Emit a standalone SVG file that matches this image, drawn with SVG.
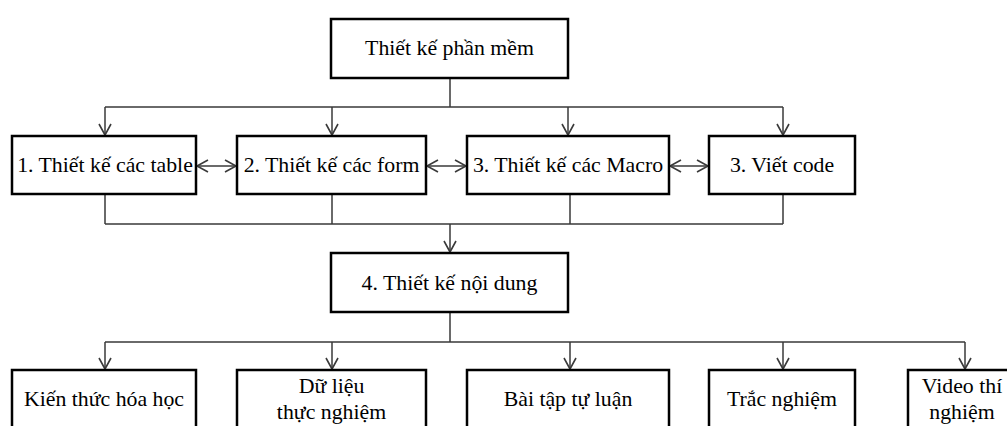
<svg xmlns="http://www.w3.org/2000/svg" width="1007" height="426" viewBox="0 0 1007 426">
<style>
.box{fill:#fff;stroke:#000;stroke-width:2.5}
.t{font-family:"Liberation Serif","Times New Roman",serif;font-size:21.8px;fill:#000;text-anchor:middle}
.c{fill:none;stroke:#3a3a3a;stroke-width:1.5}
</style>
<defs>
<marker id="ah" markerUnits="userSpaceOnUse" markerWidth="14" markerHeight="14" viewBox="0 0 14 14" refX="12" refY="7" orient="auto-start-reverse">
<path d="M1,1 L12,7 L1,13" fill="none" stroke="#3a3a3a" stroke-width="1.6"/>
</marker>
</defs>
<rect width="1007" height="426" fill="#fff"/>
<g id="connectors">
<path class="c" d="M450,78 V107 M105,107 H783"/>
<path class="c" marker-end="url(#ah)" d="M105,107 V135"/>
<path class="c" marker-end="url(#ah)" d="M332,107 V135"/>
<path class="c" marker-end="url(#ah)" d="M568,107 V135"/>
<path class="c" marker-end="url(#ah)" d="M783,107 V135"/>
<path class="c" marker-start="url(#ah)" marker-end="url(#ah)" d="M197,166 H236"/>
<path class="c" marker-start="url(#ah)" marker-end="url(#ah)" d="M427,166 H466"/>
<path class="c" marker-start="url(#ah)" marker-end="url(#ah)" d="M670,166 H708"/>
<path class="c" d="M105,194 V224 M332,194 V224 M570,194 V224 M783,194 V224 M105,224 H783"/>
<path class="c" marker-end="url(#ah)" d="M450,224 V252"/>
<path class="c" d="M450,312 V342 M105,342 H965"/>
<path class="c" marker-end="url(#ah)" d="M105,342 V369"/>
<path class="c" marker-end="url(#ah)" d="M332,342 V369"/>
<path class="c" marker-end="url(#ah)" d="M570,342 V369"/>
<path class="c" marker-end="url(#ah)" d="M783,342 V369"/>
<path class="c" marker-end="url(#ah)" d="M965,342 V369"/>
</g>
<g id="n-root"><rect class="box" x="331" y="19" width="237" height="59"/><text class="t" x="449.5" y="55">Thiết kế phần mềm</text></g>
<g id="n-table"><rect class="box" x="12" y="136" width="184" height="58"/><text class="t" x="105" y="172">1. Thiết kế các table</text></g>
<g id="n-form"><rect class="box" x="237" y="136" width="189" height="58"/><text class="t" x="331.5" y="172">2. Thiết kế các form</text></g>
<g id="n-macro"><rect class="box" x="467" y="136" width="202" height="58"/><text class="t" x="568" y="172">3. Thiết kế các Macro</text></g>
<g id="n-code"><rect class="box" x="709" y="136" width="146" height="58"/><text class="t" x="782" y="172">3. Viết code</text></g>
<g id="n-content"><rect class="box" x="331" y="253" width="237" height="59"/><text class="t" x="449.5" y="290">4. Thiết kế nội dung</text></g>
<g id="n-kienthuc"><rect class="box" x="12" y="370" width="184" height="70"/><text class="t" x="104" y="406">Kiến thức hóa học</text></g>
<g id="n-dulieu"><rect class="box" x="237" y="370" width="189" height="70"/><text class="t" x="331.5" y="393">Dữ liệu</text><text class="t" x="331.5" y="419">thực nghiệm</text></g>
<g id="n-baitap"><rect class="box" x="467" y="370" width="202" height="70"/><text class="t" x="568" y="406">Bài tập tự luận</text></g>
<g id="n-tracnghiem"><rect class="box" x="709" y="370" width="146" height="70"/><text class="t" x="782" y="406">Trắc nghiệm</text></g>
<g id="n-video"><rect class="box" x="908" y="370" width="120" height="70"/><text class="t" x="962" y="393">Video thí</text><text class="t" x="962" y="419">nghiệm</text></g>
</svg>
